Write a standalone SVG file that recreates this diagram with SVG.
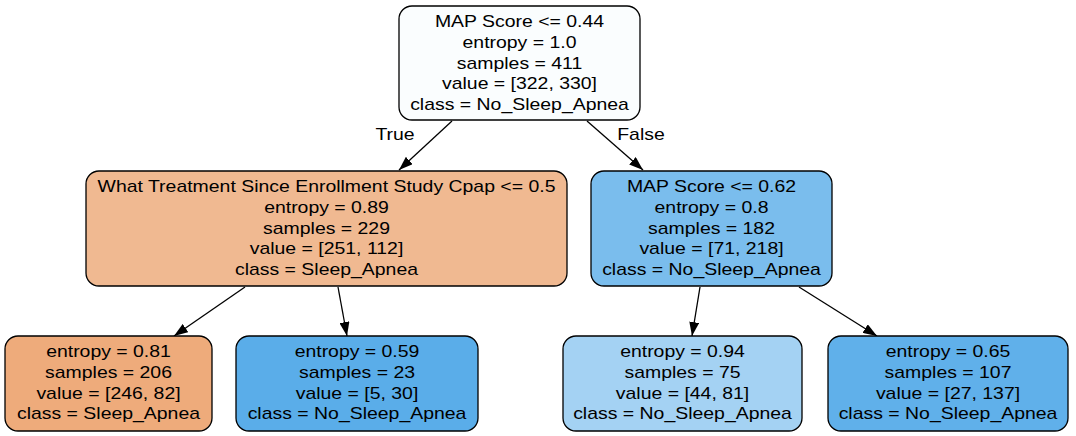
<svg xmlns="http://www.w3.org/2000/svg" width="1076" height="436" viewBox="0 0 1076 436">
<style>
.box{stroke:#000;stroke-width:1.3}
text{font-family:"Liberation Sans",Arial,Helvetica,sans-serif;font-size:17.2px;fill:#000;text-anchor:middle}
.edge{stroke:#000;stroke-width:1.3;fill:none}
</style>
<defs>
<marker id="arr" viewBox="0 0 14 10" refX="14" refY="5" markerWidth="14" markerHeight="10" markerUnits="userSpaceOnUse" orient="auto">
<path d="M0,0 L14,5 L0,10 z" fill="#000"/>
</marker>
</defs>
<rect width="1076" height="436" fill="#fff"/>
<g id="connectors">
<line class="edge" x1="452" y1="121" x2="399" y2="170" marker-end="url(#arr)"/>
<line class="edge" x1="587" y1="121" x2="643" y2="170" marker-end="url(#arr)"/>
<line class="edge" x1="245" y1="287" x2="174" y2="336" marker-end="url(#arr)"/>
<line class="edge" x1="338" y1="287" x2="347" y2="336" marker-end="url(#arr)"/>
<line class="edge" x1="700" y1="287" x2="692" y2="336" marker-end="url(#arr)"/>
<line class="edge" x1="799" y1="287" x2="877" y2="336" marker-end="url(#arr)"/>
<g transform="translate(395,0) scale(1.13,1)"><text x="0" y="140">True</text></g>
<g transform="translate(641,0) scale(1.13,1)"><text x="0" y="140">False</text></g>
</g>
<g id="node0">
<rect class="box" x="399" y="6" width="241" height="114" rx="13" fill="#fafdfe"/>
<g transform="translate(519.5,0) scale(1.13,1)">
<text x="0" y="27.3">MAP Score &lt;= 0.44</text>
<text x="0" y="48">entropy = 1.0</text>
<text x="0" y="68.7">samples = 411</text>
<text x="0" y="89.4">value = [322, 330]</text>
<text x="0" y="110">class = No_Sleep_Apnea</text>
</g>
</g>
<g id="node1">
<rect class="box" x="86" y="171" width="481" height="115" rx="13" fill="#f0b991"/>
<g transform="translate(326.5,0) scale(1.13,1)">
<text x="0" y="192.3">What Treatment Since Enrollment Study Cpap &lt;= 0.5</text>
<text x="0" y="213">entropy = 0.89</text>
<text x="0" y="233.7">samples = 229</text>
<text x="0" y="254.4">value = [251, 112]</text>
<text x="0" y="275">class = Sleep_Apnea</text>
</g>
</g>
<g id="node4">
<rect class="box" x="591" y="171" width="241" height="115" rx="13" fill="#7abded"/>
<g transform="translate(711.5,0) scale(1.13,1)">
<text x="0" y="192.3">MAP Score &lt;= 0.62</text>
<text x="0" y="213">entropy = 0.8</text>
<text x="0" y="233.7">samples = 182</text>
<text x="0" y="254.4">value = [71, 218]</text>
<text x="0" y="275">class = No_Sleep_Apnea</text>
</g>
</g>
<g id="node2">
<rect class="box" x="5" y="336" width="207" height="95" rx="13" fill="#eeab7b"/>
<g transform="translate(108.5,0) scale(1.13,1)">
<text x="0" y="357.3">entropy = 0.81</text>
<text x="0" y="378">samples = 206</text>
<text x="0" y="398.7">value = [246, 82]</text>
<text x="0" y="419.4">class = Sleep_Apnea</text>
</g>
</g>
<g id="node3">
<rect class="box" x="236" y="336" width="242" height="95" rx="13" fill="#5aade9"/>
<g transform="translate(357,0) scale(1.13,1)">
<text x="0" y="357.3">entropy = 0.59</text>
<text x="0" y="378">samples = 23</text>
<text x="0" y="398.7">value = [5, 30]</text>
<text x="0" y="419.4">class = No_Sleep_Apnea</text>
</g>
</g>
<g id="node5">
<rect class="box" x="563" y="336" width="239" height="95" rx="13" fill="#a4d2f3"/>
<g transform="translate(682.5,0) scale(1.13,1)">
<text x="0" y="357.3">entropy = 0.94</text>
<text x="0" y="378">samples = 75</text>
<text x="0" y="398.7">value = [44, 81]</text>
<text x="0" y="419.4">class = No_Sleep_Apnea</text>
</g>
</g>
<g id="node6">
<rect class="box" x="828" y="336" width="240" height="95" rx="13" fill="#60b0ea"/>
<g transform="translate(948,0) scale(1.13,1)">
<text x="0" y="357.3">entropy = 0.65</text>
<text x="0" y="378">samples = 107</text>
<text x="0" y="398.7">value = [27, 137]</text>
<text x="0" y="419.4">class = No_Sleep_Apnea</text>
</g>
</g>
</svg>
